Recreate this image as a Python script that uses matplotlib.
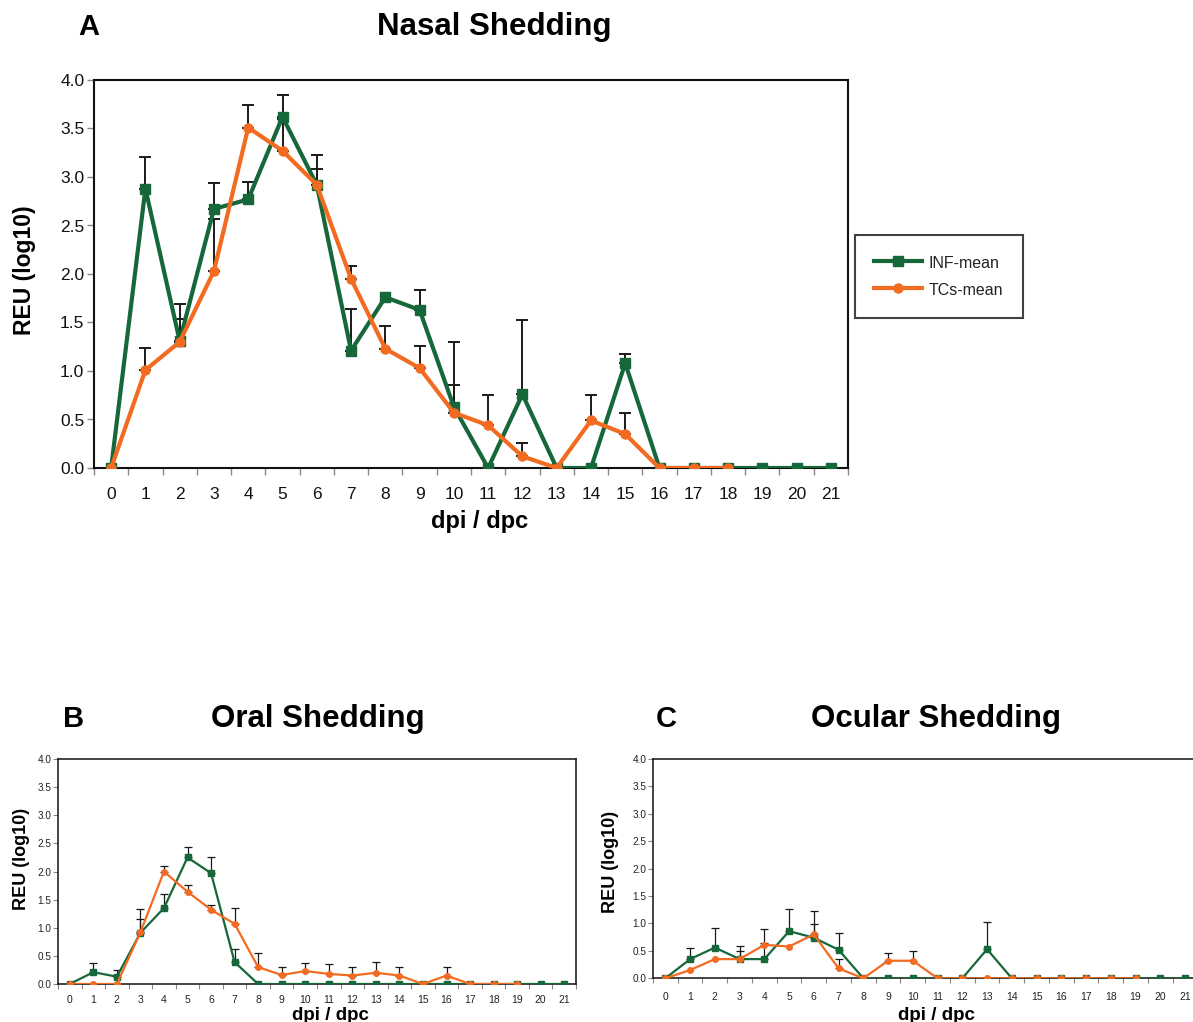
import numpy as np
import matplotlib
matplotlib.use("Agg")
import matplotlib.pyplot as plt
from matplotlib.ticker import FixedLocator, FormatStrFormatter

plt.rcParams['font.family'] = ['Liberation Sans', 'DejaVu Sans']

# ---------------- data ----------------
days = list(range(22))
day_labels = [str(d) for d in days]
series_names = ["INF-mean", "TCs-mean"]

# Panel A: Nasal shedding
nasal_inf = [0, 2.88, 1.31, 2.67, 2.77, 3.62, 2.92, 1.21, 1.76, 1.63, 0.63, 0,
             0.76, 0, 0, 1.08, 0, 0, 0, 0, 0, 0]
nasal_inf_err = [0, 0.33, 0.38, 0.27, 0.18, 0.23, 0.31, 0.43, 0, 0.21, 0.67, 0,
                 0.77, 0, 0, 0.10, 0, 0, 0, 0, 0, 0]
nasal_tc = [0, 1.01, 1.30, 2.03, 3.51, 3.27, 2.92, 1.95, 1.23, 1.03, 0.57, 0.44,
            0.12, 0, 0.49, 0.35, 0, 0, 0]
nasal_tc_err = [0, 0.23, 0.24, 0.54, 0.23, 0.33, 0.16, 0.13, 0.23, 0.23, 0.29, 0.31,
                0.14, 0, 0.26, 0.22, 0, 0, 0]

# Panel B: Oral shedding
oral_inf = [0, 0.21, 0.13, 0.91, 1.35, 2.25, 1.97, 0.39, 0, 0, 0, 0,
            0, 0, 0, 0, 0, 0, 0, 0, 0, 0]
oral_inf_err = [0, 0.17, 0.12, 0.25, 0.25, 0.18, 0.28, 0.24, 0, 0, 0, 0,
                0, 0, 0, 0, 0, 0, 0, 0, 0, 0]
oral_tc = [0, 0, 0, 0.92, 2.00, 1.64, 1.32, 1.07, 0.30, 0.16, 0.23, 0.18,
           0.15, 0.20, 0.15, 0, 0.15, 0, 0, 0]
oral_tc_err = [0, 0, 0, 0.41, 0.09, 0.12, 0.08, 0.29, 0.25, 0.14, 0.15, 0.18,
               0.15, 0.19, 0.15, 0, 0.15, 0, 0, 0]

# Panel C: Ocular shedding
ocular_inf = [0, 0.35, 0.56, 0.35, 0.35, 0.86, 0.74, 0.52, 0, 0, 0, 0,
              0, 0.53, 0, 0, 0, 0, 0, 0, 0, 0]
ocular_inf_err = [0, 0.20, 0.35, 0.24, 0.29, 0.40, 0.49, 0.30, 0, 0, 0, 0,
                  0, 0.50, 0, 0, 0, 0, 0, 0, 0, 0]
ocular_tc = [0, 0.15, 0.35, 0.35, 0.61, 0.58, 0.80, 0.18, 0, 0.32, 0.32, 0,
             0, 0, 0, 0, 0, 0, 0, 0]
ocular_tc_err = [0, 0, 0, 0.15, 0.29, 0, 0.19, 0.17, 0, 0.15, 0.17, 0,
                 0, 0, 0, 0, 0, 0, 0, 0]

GREEN = '#16683A'
ORANGE = '#F26B21'

W, H = 1193, 1022
fig = plt.figure(figsize=(W / 100, H / 100), dpi=100)


def px_axes(x0, y0, x1, y1):
    return fig.add_axes([x0 / W, 1 - y1 / H, (x1 - x0) / W, (y1 - y0) / H])


def draw_panel(ax, inf, inf_err, tc, tc_err, big):
    lw = 3.0 if big else 1.6
    ms_sq = 7.5 if big else 4.2
    ms_ci = 6.5 if big else 4.0
    elw = 1.4 if big else 0.9
    cap = 4.5 if big else 2.6
    for vals, errs in ((inf, inf_err), (tc, tc_err)):
        x = np.arange(len(vals))
        v = np.asarray(vals, float)
        e = np.asarray(errs, float)
        m = e > 0
        ax.errorbar(x[m], v[m], yerr=[np.zeros(m.sum()), e[m]], fmt='none',
                    ecolor='#1a1a1a', elinewidth=elw, capsize=cap,
                    capthick=elw, zorder=2)
    ax.plot(np.arange(len(inf)), inf, color=GREEN, lw=lw, marker='s',
            ms=ms_sq, mfc=GREEN, mec=GREEN, zorder=3, label=series_names[0])
    ax.plot(np.arange(len(tc)), tc, color=ORANGE, lw=lw, marker='o',
            ms=ms_ci, mfc=ORANGE, mec=ORANGE, zorder=4, label=series_names[1])
    ax.set_xlim(-0.5, 21.5)
    ax.set_ylim(0, 4.0)
    ax.set_yticks(np.arange(0, 4.01, 0.5))
    ax.yaxis.set_major_formatter(FormatStrFormatter('%.1f'))
    ax.set_xticks(days)
    ax.set_xticklabels(day_labels)
    ax.xaxis.set_minor_locator(FixedLocator(np.arange(-0.5, 21.6, 1.0)))
    slw = 1.5 if big else 1.1
    for s in ax.spines.values():
        s.set_linewidth(slw)
        s.set_color('#111111')
    ax.patch.set_visible(False)


# ---- Panel A ----
axA = px_axes(94, 80, 848, 468)
draw_panel(axA, nasal_inf, nasal_inf_err, nasal_tc, nasal_tc_err, True)
axA.tick_params(axis='x', which='major', length=0, pad=14, labelsize=12.5,
                labelcolor='#111111')
axA.tick_params(axis='x', which='minor', length=5, width=1.0, color='#888888',
                direction='out')
axA.tick_params(axis='y', which='major', length=5, width=1.0, color='#888888',
                pad=2, labelsize=12.5, labelcolor='#111111')
fig.text(89 / W, 1 - 27 / H, 'A', fontsize=21, fontweight='bold',
         ha='center', va='center')
fig.text(494 / W, 1 - 27 / H, 'Nasal Shedding', fontsize=22.5,
         fontweight='bold', ha='center', va='center')
fig.text(24 / W, 1 - 270 / H, 'REU (log10)', fontsize=16.5, fontweight='bold',
         rotation=90, ha='center', va='center')
fig.text(480 / W, 1 - 521 / H, 'dpi / dpc', fontsize=17, fontweight='bold',
         ha='center', va='center')

leg = fig.legend(handles=axA.get_lines()[-2:], labels=series_names,
                 loc='upper left',
                 bbox_to_anchor=(855 / W, 1 - 317 / H, 168 / W, 82 / H),
                 mode='expand', fontsize=11.5, frameon=True, fancybox=False,
                 borderpad=1.2, handlelength=3.0, handleheight=1.3,
                 handletextpad=0.4, labelspacing=0.6, borderaxespad=0,
                 numpoints=1)
leg.get_frame().set_edgecolor('#111111')
leg.get_frame().set_linewidth(1.5)
for t in leg.get_texts():
    t.set_color('#222222')

# ---- Panel B ----
axB = px_axes(58, 759, 576, 984)
draw_panel(axB, oral_inf, oral_inf_err, oral_tc, oral_tc_err, False)
axB.tick_params(axis='x', which='major', length=0, pad=8, labelsize=7.5,
                labelcolor='#222222')
axB.tick_params(axis='x', which='minor', length=3.5, width=0.8,
                color='#888888', direction='out')
axB.tick_params(axis='y', which='major', length=3.5, width=0.8,
                color='#888888', pad=1, labelsize=7.2, labelcolor='#222222')
fig.text(74 / W, 1 - 719 / H, 'B', fontsize=21, fontweight='bold',
         ha='center', va='center')
fig.text(318 / W, 1 - 719 / H, 'Oral Shedding', fontsize=22.5,
         fontweight='bold', ha='center', va='center')
fig.text(22 / W, 1 - 859 / H, 'REU (log10)', fontsize=13, fontweight='bold',
         rotation=90, ha='center', va='center')
fig.text(330 / W, 1 - 1015 / H, 'dpi / dpc', fontsize=13.5, fontweight='bold',
         ha='center', va='center')

# ---- Panel C ----
axC = px_axes(653, 759, 1197.4, 978.3)
draw_panel(axC, ocular_inf, ocular_inf_err, ocular_tc, ocular_tc_err, False)
axC.tick_params(axis='x', which='major', length=0, pad=10, labelsize=7.5,
                labelcolor='#222222')
axC.tick_params(axis='x', which='minor', length=3.5, width=0.8,
                color='#888888', direction='out')
axC.tick_params(axis='y', which='major', length=3.5, width=0.8,
                color='#888888', pad=1, labelsize=7.2, labelcolor='#222222')
fig.text(666 / W, 1 - 719 / H, 'C', fontsize=21, fontweight='bold',
         ha='center', va='center')
fig.text(936 / W, 1 - 719 / H, 'Ocular Shedding', fontsize=22.5,
         fontweight='bold', ha='center', va='center')
fig.text(610 / W, 1 - 862 / H, 'REU (log10)', fontsize=13, fontweight='bold',
         rotation=90, ha='center', va='center')
fig.text(936 / W, 1 - 1015 / H, 'dpi / dpc', fontsize=13.5, fontweight='bold',
         ha='center', va='center')

fig.savefig('out.png', dpi=100, facecolor='white')
